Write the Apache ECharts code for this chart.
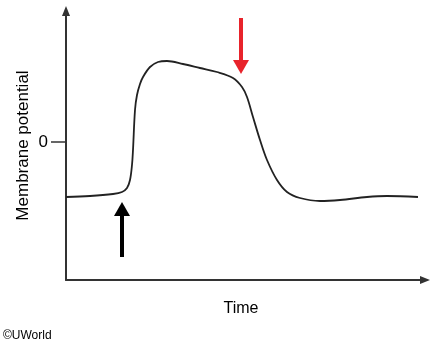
<!DOCTYPE html>
<html><head><meta charset="utf-8">
<script src="https://cdn.jsdelivr.net/npm/echarts@6/dist/echarts.min.js"></script>
<style>html,body{margin:0;padding:0;background:#fff}#c{width:439px;height:345px}</style>
</head><body><div id="c"></div>
<script>
// Time (arbitrary units) and membrane potential (arbitrary units, 0 = zero potential)
const timeValues = [0, 24, 47, 56, 61, 64, 66, 67, 69, 71, 74, 77, 84, 92, 101, 117, 134, 151, 167, 176, 181, 187, 194, 201, 211, 221, 234, 254, 274, 301, 321, 352];
const potentialValues = [-55, -54, -52, -50, -46, -38, -23, -8, 32, 47, 58, 65, 75, 80, 81, 78, 74, 70, 64, 55, 45, 25, 2, -18, -38, -50, -56, -59, -58, -55, -54, -55];
const yTickValues = [0];
// annotation arrows: time position, tail value, tip value
const arrowTimes = [56, 175];
const arrowTails = [-115, 124];
const arrowTips = [-60, 68];
const arrowColors = ['#000000', '#e8232b'];

const curve = timeValues.map((t, i) => [t, potentialValues[i]]);
const arrows = arrowTimes.map((t, i) => [t, arrowTails[i], arrowTips[i], i]);
const FONT = "'Liberation Sans', Arial, sans-serif";
const AXIS_COLOR = '#333333';

const chart = echarts.init(document.getElementById('c'), null, {renderer: 'canvas'});
chart.setOption({
  animation: false,
  backgroundColor: '#ffffff',
  grid: {left: 66, right: 14, top: 11, bottom: 65, containLabel: false},
  xAxis: {
    type: 'value', min: 0, max: 359,
    name: 'Time', nameLocation: 'middle', nameGap: 21, nameMoveOverlap: false,
    nameTextStyle: {fontFamily: FONT, fontSize: 16, color: '#000', padding: [0, 9, 0, 0]},
    axisLine: {show: true, onZero: false, lineStyle: {color: AXIS_COLOR, width: 2},
      symbol: ['none', 'path://M0,0 L4,10 L-4,10 Z'], symbolSize: [8, 10]},
    axisTick: {show: false}, axisLabel: {show: false}, splitLine: {show: false}
  },
  yAxis: {
    type: 'value', min: -138, max: 131,
    name: 'Membrane potential', nameLocation: 'middle', nameGap: 34, nameRotate: 90, nameMoveOverlap: false,
    nameTextStyle: {fontFamily: FONT, fontSize: 17, color: '#000'},
    axisLine: {show: true, onZero: false, lineStyle: {color: AXIS_COLOR, width: 2},
      symbol: ['none', 'path://M0,0 L4,10 L-4,10 Z'], symbolSize: [8, 10]},
    axisTick: {show: true, customValues: yTickValues, length: 15, lineStyle: {color: AXIS_COLOR, width: 1.5}},
    axisLabel: {show: true, customValues: yTickValues, margin: 18, fontFamily: FONT, fontSize: 17, color: '#000'},
    splitLine: {show: false}
  },
  series: [
    {
      type: 'line', data: curve, smooth: 0.35, showSymbol: false,
      lineStyle: {color: '#222222', width: 1.8}
    },
    {
      type: 'custom', data: arrows,
      renderItem: function (params, api) {
        const tail = api.coord([api.value(0), api.value(1)]);
        const tip = api.coord([api.value(0), api.value(2)]);
        const color = arrowColors[api.value(3)];
        const dir = tip[1] < tail[1] ? -1 : 1;
        const headLen = 14, headHalf = 8, shaftHalf = 2;
        const base = tip[1] - dir * headLen;
        const x = tip[0];
        return {
          type: 'group',
          children: [
            {type: 'rect', shape: {x: x - shaftHalf, y: Math.min(tail[1], base), width: shaftHalf * 2, height: Math.abs(base - tail[1])}, style: {fill: color}},
            {type: 'polygon', shape: {points: [[x, tip[1]], [x - headHalf, base], [x + headHalf, base]]}, style: {fill: color}}
          ]
        };
      }
    }
  ],
  graphic: [
    {type: 'text', left: 3, top: 330, style: {text: '©UWorld', font: "12px " + FONT, fill: '#000'}}
  ]
});
</script></body></html>
